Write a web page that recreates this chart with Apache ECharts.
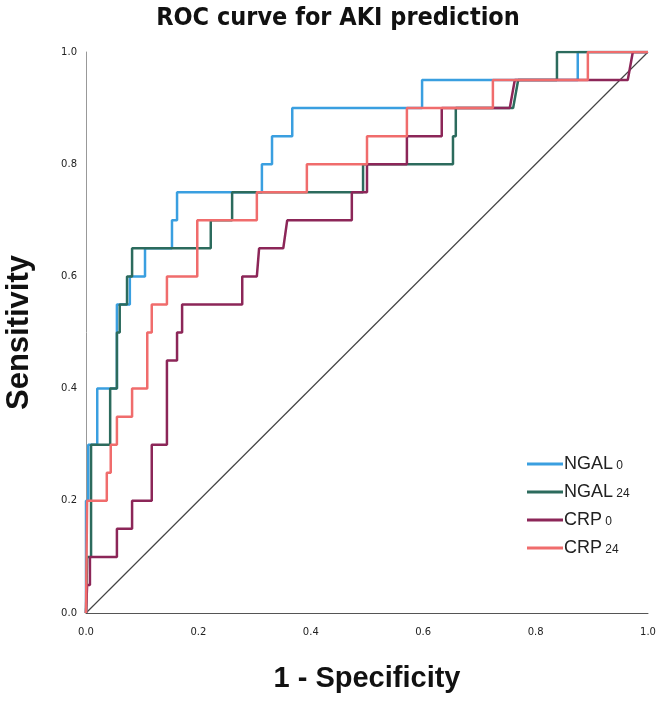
<!DOCTYPE html>
<html>
<head>
<meta charset="utf-8">
<script src="https://cdn.jsdelivr.net/npm/echarts@6/dist/echarts.min.js"></script>
<style>
  html, body { margin: 0; padding: 0; background: #fff; }
  #chart { width: 666px; height: 704px; }
</style>
</head>
<body>
<div id="chart"></div>
<script>
// ROC points: [1 - specificity, sensitivity]
const ngal0 = [
    [0, 0], [0, 0.2], [0.004, 0.2], [0.004, 0.3], [0.02, 0.3], [0.02, 0.4],
    [0.055, 0.4], [0.055, 0.55], [0.078, 0.55], [0.078, 0.6], [0.105, 0.6],
    [0.105, 0.65], [0.153, 0.65], [0.153, 0.7], [0.162, 0.7], [0.162, 0.75],
    [0.313, 0.75], [0.313, 0.8], [0.331, 0.8], [0.331, 0.85], [0.367, 0.85],
    [0.367, 0.9], [0.598, 0.9], [0.598, 0.95], [0.875, 0.95], [0.875, 1], [1, 1]
]
const ngal24 = [
    [0, 0], [0.002, 0], [0.002, 0.1], [0.009, 0.1], [0.009, 0.3], [0.043, 0.3],
    [0.043, 0.4], [0.055, 0.4], [0.055, 0.5], [0.06, 0.5], [0.06, 0.55],
    [0.073, 0.55], [0.073, 0.6], [0.082, 0.6], [0.082, 0.65], [0.222, 0.65],
    [0.222, 0.7], [0.26, 0.7], [0.26, 0.75], [0.493, 0.75], [0.493, 0.8],
    [0.653, 0.8], [0.653, 0.85], [0.658, 0.85], [0.658, 0.9], [0.76, 0.9],
    [0.769, 0.95], [0.838, 0.95], [0.838, 1], [1, 1]
]
const crp0 = [
    [0, 0], [0.002, 0], [0.002, 0.05], [0.007, 0.05], [0.007, 0.1], [0.055, 0.1],
    [0.055, 0.15], [0.082, 0.15], [0.082, 0.2], [0.117, 0.2], [0.117, 0.3],
    [0.144, 0.3], [0.144, 0.45], [0.162, 0.45], [0.162, 0.5], [0.171, 0.5],
    [0.171, 0.55], [0.278, 0.55], [0.278, 0.6], [0.304, 0.6], [0.308, 0.65],
    [0.351, 0.65], [0.358, 0.7], [0.473, 0.7], [0.473, 0.75], [0.5, 0.75],
    [0.5, 0.8], [0.571, 0.8], [0.571, 0.85], [0.633, 0.85], [0.633, 0.9],
    [0.754, 0.9], [0.763, 0.95], [0.964, 0.95], [0.973, 1], [1, 1]
]
const crp24 = [
    [0, 0], [0.002, 0], [0.002, 0.2], [0.037, 0.2], [0.037, 0.25], [0.044, 0.25],
    [0.044, 0.3], [0.055, 0.3], [0.055, 0.35], [0.082, 0.35], [0.082, 0.4],
    [0.109, 0.4], [0.109, 0.5], [0.117, 0.5], [0.117, 0.55], [0.144, 0.55],
    [0.144, 0.6], [0.198, 0.6], [0.198, 0.7], [0.304, 0.7], [0.304, 0.75],
    [0.393, 0.75], [0.393, 0.8], [0.5, 0.8], [0.5, 0.85], [0.571, 0.85],
    [0.571, 0.9], [0.724, 0.9], [0.724, 0.95], [0.893, 0.95], [0.893, 1], [1, 1]
]
const reference = [[0, 0], [1, 1]]

const seriesNames = ["NGAL 0", "NGAL 24", "CRP 0", "CRP 24"]
const seriesData = [ngal0, ngal24, crp0, crp24]
const seriesColors = ["#3a9fe0", "#2c6b5d", "#8c2658", "#f06c6c"]
const tickValues = [0, 0.2, 0.4, 0.6, 0.8, 1.0]

const chart = echarts.init(document.getElementById("chart"))

const axisCommon = {
    type: "value",
    min: 0,
    max: 1,
    interval: 0.2,
    nameLocation: "middle",
    nameTextStyle: {
        fontFamily: "Liberation Sans",
        fontWeight: "bold",
        color: "#111"
    },
    axisTick: { show: false },
    splitLine: { show: false },
    axisLabel: {
        fontFamily: "DejaVu Sans",
        fontSize: 10,
        color: "#222",
        formatter: v => tickValues.includes(Math.round(v * 10) / 10) ? v.toFixed(1) : ""
    }
}

const option = {
    backgroundColor: "#fff",
    animation: false,
    title: {
        text: "ROC curve for AKI prediction",
        left: 333,
        textAlign: "center",
        top: 1,
        textStyle: {
            fontFamily: "'Liberation Sans Narrow', 'DejaVu Sans Condensed', 'Liberation Sans'",
            fontWeight: "bold",
            fontSize: 25,
            color: "#111"
        }
    },
    grid: { left: 86, right: 18, top: 52, bottom: 91, outerBoundsMode: "none", containLabel: false },
    xAxis: {
        ...axisCommon,
        name: "1 - Specificity",
        nameGap: 51,
        nameTextStyle: { ...axisCommon.nameTextStyle, fontSize: 29 },
        axisLine: { lineStyle: { color: "#555", width: 1 } },
        axisLabel: { ...axisCommon.axisLabel, margin: 14 }
    },
    yAxis: {
        ...axisCommon,
        name: "Sensitivity",
        nameGap: 51,
        nameTextStyle: { ...axisCommon.nameTextStyle, fontSize: 31 },
        axisLine: { show: true, lineStyle: { color: "#999", width: 1 } },
        axisLabel: { ...axisCommon.axisLabel, margin: 9 }
    },
    legend: {
        orient: "vertical",
        left: 522,
        top: 450,
        itemWidth: 36,
        itemHeight: 3,
        itemGap: 10,
        icon: "rect",
        data: seriesNames,
        formatter: name => {
            const parts = name.split(" ")
            return `{a|${parts[0]}}{b| ${parts[1]}}`
        },
        textStyle: {
            padding: [0, 0, 0, -4],
            rich: {
                a: { fontFamily: "Liberation Sans", fontSize: 18, color: "#222" },
                b: { fontFamily: "Liberation Sans", fontSize: 12, color: "#222", padding: [3, 0, 0, 0] }
            }
        }
    },
    series: [
        {
            name: "reference",
            type: "line",
            data: reference,
            showSymbol: false,
            silent: true,
            lineStyle: { color: "#444", width: 1.2 },
            z: 1
        },
        ...seriesData.map((d, i) => ({
            name: seriesNames[i],
            type: "line",
            data: d,
            showSymbol: false,
            color: seriesColors[i],
            lineStyle: { color: seriesColors[i], width: 2.5 },
            z: 2 + i
        }))
    ]
}

chart.setOption(option)
</script>
</body>
</html>
